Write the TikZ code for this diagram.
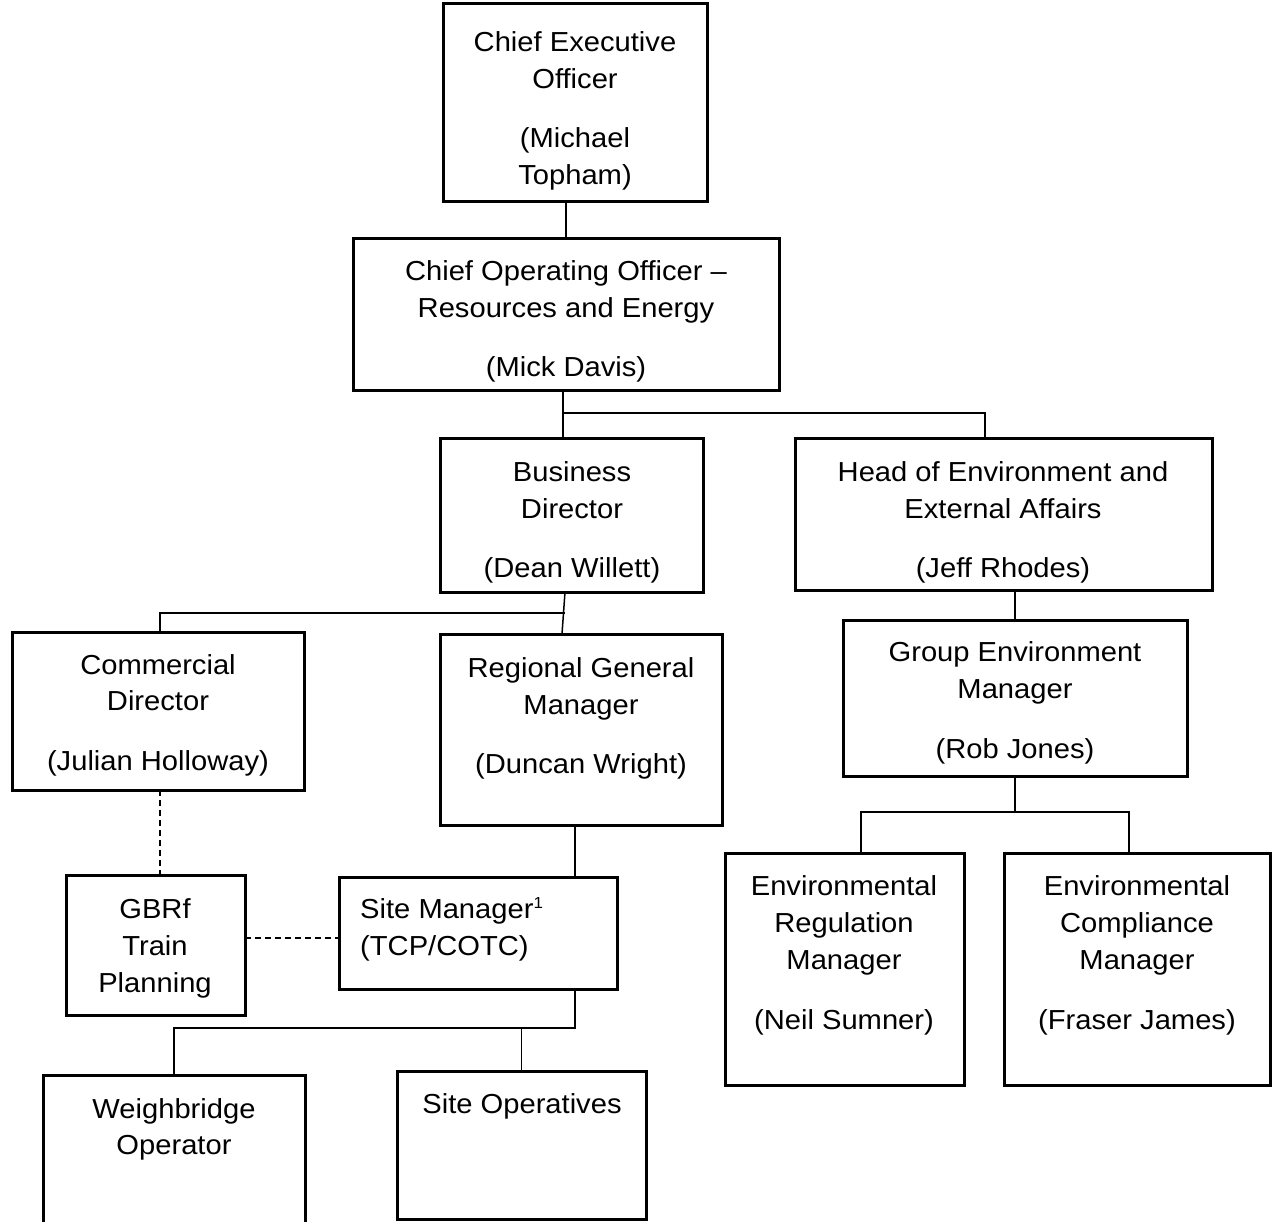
\documentclass[tikz,border=0pt]{standalone}
\usepackage{fontspec}
\setmainfont{Liberation Sans}[FakeStretch=1.06]
\begin{document}
\begin{tikzpicture}[x=1pt,y=-1pt,
  box/.style={draw, line width=3pt, inner sep=0pt, outer sep=0pt, anchor=north west},
  lbl/.style={anchor=base, inner sep=0pt, font=\fontsize{27.5}{32}\selectfont},
  lblw/.style={anchor=base west, inner sep=0pt, font=\fontsize{27.5}{32}\selectfont},
  conn/.style={line width=1.5pt},
  dconn/.style={line width=1.5pt, dash pattern=on 6pt off 4pt}]
\useasboundingbox (0,0) rectangle (1277,1221);
% boxes
\node[box, minimum width=264pt, minimum height=198pt] (ceo) at (443,3) {};
\node[box, minimum width=426pt, minimum height=152pt] (coo) at (353,238) {};
\node[box, minimum width=263pt, minimum height=154pt] (bd) at (440,438) {};
\node[box, minimum width=417pt, minimum height=152pt] (head) at (795,438) {};
\node[box, minimum width=292pt, minimum height=158pt] (com) at (12,632) {};
\node[box, minimum width=282pt, minimum height=191pt] (reg) at (440,634) {};
\node[box, minimum width=344pt, minimum height=156pt] (grp) at (843,620) {};
\node[box, minimum width=179pt, minimum height=140pt] (gbrf) at (66,875) {};
\node[box, minimum width=278pt, minimum height=112pt] (site) at (339,877) {};
\node[box, minimum width=262pt, minimum height=170pt] (weigh) at (43,1075) {};
\node[box, minimum width=249pt, minimum height=148pt] (ops) at (397,1071) {};
\node[box, minimum width=239pt, minimum height=232pt] (envreg) at (725,853) {};
\node[box, minimum width=266pt, minimum height=232pt] (envcomp) at (1004,853) {};
% texts
\node[lbl] (ceo1) at (575,51) {Chief Executive};
\node[lbl] (ceo2) at (575,88) {Officer};
\node[lbl] (ceo3) at (575,147) {(Michael};
\node[lbl] (ceo4) at (575,184) {Topham)};
\node[lbl] (coo1) at (566,280) {Chief Operating Officer –};
\node[lbl] (coo2) at (566,317) {Resources and Energy};
\node[lbl] (coo3) at (566,376) {(Mick Davis)};
\node[lbl] (bd1) at (572,481) {Business};
\node[lbl] (bd2) at (572,518) {Director};
\node[lbl] (bd3) at (572,577) {(Dean Willett)};
\node[lbl] (hd1) at (1003,481) {Head of Environment and};
\node[lbl] (hd2) at (1003,518) {External Affairs};
\node[lbl] (hd3) at (1003,577) {(Jeff Rhodes)};
\node[lbl] (com1) at (158,674) {Commercial};
\node[lbl] (com2) at (158,710) {Director};
\node[lbl] (com3) at (158,770) {(Julian Holloway)};
\node[lbl] (reg1) at (581,677) {Regional General};
\node[lbl] (reg2) at (581,714) {Manager};
\node[lbl] (reg3) at (581,773) {(Duncan Wright)};
\node[lbl] (grp1) at (1015,661) {Group Environment};
\node[lbl] (grp2) at (1015,698) {Manager};
\node[lbl] (grp3) at (1015,758) {(Rob Jones)};
\node[lbl] (gb1) at (155,918) {GBRf};
\node[lbl] (gb2) at (155,955) {Train};
\node[lbl] (gb3) at (155,992) {Planning};
\node[lblw] (sm1) at (360,918) {Site Manager\textsuperscript{\fontsize{16}{16}\selectfont 1}};
\node[lblw] (sm2) at (360,955) {(TCP/COTC)};
\node[lbl] (wb1) at (174,1118) {Weighbridge};
\node[lbl] (wb2) at (174,1154) {Operator};
\node[lbl] (op1) at (522,1113) {Site Operatives};
\node[lbl] (er1) at (844,895) {Environmental};
\node[lbl] (er2) at (844,932) {Regulation};
\node[lbl] (er3) at (844,969) {Manager};
\node[lbl] (er4) at (844,1029) {(Neil Sumner)};
\node[lbl] (ec1) at (1137,895) {Environmental};
\node[lbl] (ec2) at (1137,932) {Compliance};
\node[lbl] (ec3) at (1137,969) {Manager};
\node[lbl] (ec4) at (1137,1029) {(Fraser James)};
% connectors
\draw[conn] ([xshift=-9pt]ceo.south) -- (coo.north);
\draw[conn] ([xshift=-3pt]coo.south) -- ([xshift=-8.5pt]bd.north);
\coordinate (cj) at ([xshift=-3pt,yshift=-23pt]coo.south);
\draw[conn] (cj) -| ([xshift=-18.5pt]head.north);
\draw[conn] ([xshift=-6.5pt]bd.south) -- ([xshift=-19pt]reg.north);
\coordinate (bj) at ([xshift=-6.5pt,yshift=-21pt]bd.south);
\draw[conn] (bj) -| ([xshift=2pt]com.north);
\draw[dconn] ([xshift=2pt]com.south) -- ([xshift=4.5pt]gbrf.north);
\draw[dconn] (gbrf.east |- 0,938) -- (site.west |- 0,938);
\draw[conn] ([xshift=-6pt]reg.south) -- ([xshift=97pt]site.north);
\coordinate (sj) at ([xshift=97pt,yshift=-39pt]site.south);
\draw[conn] ([xshift=97pt]site.south) -- (sj) -| (weigh.north);
\draw[conn] (sj -| ops.north) -- (ops.north);
\draw[conn] ([xshift=11.5pt]head.south) -- (grp.north);
\coordinate (gj) at ([yshift=-36pt]grp.south);
\draw[conn] (grp.south) -- (gj);
\draw[conn] ([xshift=16.5pt]envreg.north) |- (gj) -| ([xshift=-8pt]envcomp.north);
\end{tikzpicture}
\end{document}
